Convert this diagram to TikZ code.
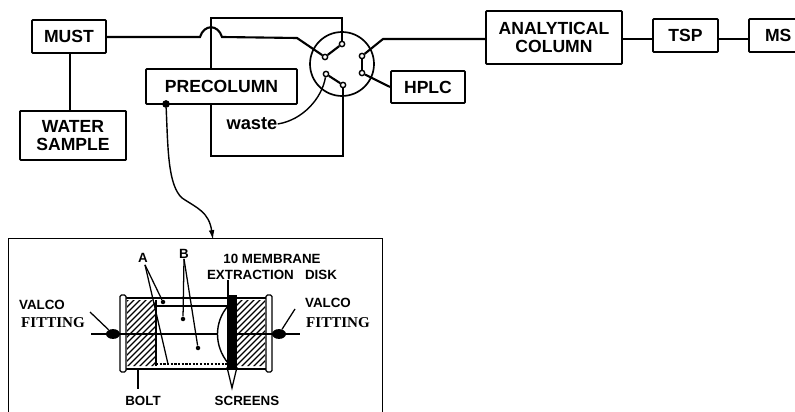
\documentclass[tikz,border=0pt]{standalone}
\usepackage{fontspec}
\setmainfont{Liberation Sans}
\newfontfamily\fitfont{Liberation Serif}
\usetikzlibrary{positioning,arrows.meta,calc,shapes.geometric}
\tikzset{
  flowbox/.style={draw, line width=1.3pt, rounded corners=0.6pt, align=center, font=\fontsize{12.5}{13}\selectfont\bfseries, inner sep=0pt},
  pipe/.style={line width=1.5pt},
  thinpipe/.style={line width=1pt},
  leader/.style={line width=0.9pt},
  valveport/.style={circle, draw, fill=white, line width=1pt, inner sep=0pt, minimum size=3.8pt},
  tinydot/.style={circle, fill=black, inner sep=0pt, minimum size=3.2pt},
  blobnode/.style={ellipse, fill=black, inner sep=0pt, minimum width=10pt, minimum height=7pt},
  partlabel/.style={font=\fontsize{9.5}{11}\selectfont\bfseries, inner sep=0pt},
  fitlabel/.style={font=\fontsize{10.7}{12}\fitfont\bfseries, inner sep=0pt}
}
\begin{document}
\begin{tikzpicture}[x=0.025cm, y=-0.025cm]
  \clip (0,0) rectangle (795,412);
  % flow boxes
  \node[flowbox, minimum width=52.6pt, minimum height=23.5pt] (must) at (69,36.5) {MUST};
  \node[flowbox, minimum width=75.4pt, minimum height=34.9pt] (water) at (73,135.5) {WATER\\SAMPLE};
  \node[flowbox, minimum width=107.4pt, minimum height=24.9pt] (precol) at (221.5,86.5) {PRECOLUMN};
  \node[flowbox, minimum width=52.6pt, minimum height=22.8pt] (hplc) at (428,87) {HPLC};
  \node[flowbox, minimum width=96.7pt, minimum height=37.7pt] (anal) at (554,37.5) {ANALYTICAL\\COLUMN};
  \node[flowbox, minimum width=46.2pt, minimum height=23.5pt] (tsp) at (685.5,35.5) {TSP};
  \node[flowbox, minimum width=39.8pt, minimum height=23.5pt, text width=34pt, align=left] (ms) at (777,35.5) {\hspace{8.5pt}MS};
  % valve
  \node[circle, draw, line width=1.2pt, inner sep=0pt, minimum size=45.5pt] (valve) at (342,64) {};
  \node[valveport] (p1) at (342,44) {};
  \node[valveport] (p2) at (325,57) {};
  \node[valveport] (p3) at (362,56) {};
  \node[valveport] (p4) at (362,73) {};
  \node[valveport] (p5) at (326,74) {};
  \node[valveport] (p6) at (343,85) {};
  \draw[pipe] (p1) -- (p2);
  \draw[pipe] (p3) -- (p4);
  \draw[pipe] (p5) -- (p6);
  % main line
  \coordinate (hopL) at (200,37);
  \coordinate (hopR) at (222,37);
  \coordinate (bendA) at (297,38);
  \coordinate (bendB) at (383,39);
  \draw[pipe] (must.east |- hopL) -- (hopL) .. controls (204,24) and (218,24) .. (hopR) -- (bendA) -- (p2);
  \draw[pipe] (must.south -| 70,0) -- (water.north -| 70,0);
  \draw[pipe] (p3) -- (bendB) -- (anal.west |- bendB);
  \draw[pipe] (p4) -- (hplc.west);
  \draw[pipe] (anal.east |- bendB) -- (tsp.west |- bendB);
  \draw[pipe] (tsp.east |- bendB) -- (ms.west |- bendB);
  % precolumn loop
  \coordinate (loopTL) at (211,18);
  \coordinate (loopBL) at (211,156);
  \draw[pipe] (loopTL |- precol.north) -- (loopTL) -- (p1 |- loopTL) -- (p1);
  \draw[pipe] (loopBL |- precol.south) -- (loopBL) -- (p6 |- loopBL) -- (p6);
  % waste
  \node[font=\fontsize{13}{14}\selectfont\bfseries, inner sep=0pt] (waste) at (252,124) {waste};
  \draw[thinpipe] (p5) .. controls (322,98) and (303,120) .. (waste.east);
  % inset
  \node[draw, line width=0.9pt, minimum width=266pt, minimum height=160pt, anchor=north west, inner sep=0pt] (inset) at (8,238) {};
  \node[tinydot, minimum size=5.5pt] (precoldot) at (166,104) {};
  \draw[thinpipe, -{Latex[length=7pt, width=4pt]}] (precoldot) .. controls (168,150) and (168,185) .. (182,198) .. controls (197,208) and (209,212) .. (213,240);
  % device
  \begin{scope}
    \clip (127,300) rectangle (156,366) (235,300) rectangle (265,366);
    \foreach \hx in {40,46,...,270}
      \draw[line width=0.8pt] (\hx,370) -- (\hx+75,295);
  \end{scope}
  \draw[line width=1pt] (156,300) -- (156,366);
  \draw[line width=2pt] (126,298) -- (266,298);
  \draw[line width=2pt] (126,369) -- (266,369);
  \draw[line width=0.9pt, fill=white, rounded corners=1pt] (120,295) rectangle (126,372);
  \draw[line width=0.9pt, fill=white, rounded corners=1pt] (266,295) rectangle (272,372);
  \draw[line width=1.4pt] (156,306) -- (235,306);
  \draw[line width=1.6pt, densely dotted] (156,364) -- (235,364);
  \draw[line width=1pt, fill=white] (228,306) .. controls (214,322) and (214,346) .. (228,363) -- cycle;
  \fill (227,295) rectangle (237,370);
  \node[blobnode] (fitL) at (113,334) {};
  \node[blobnode] (fitR) at (279,334) {};
  \draw[line width=1.8pt] (91,334) -- (fitL) -- (218,334);
  \draw[line width=1.8pt] (235,334) -- (fitR) -- (300,334);
  % labels
  \node[partlabel] (labA) at (143,258) {A};
  \node[partlabel] (labB) at (184,254) {B};
  \node[partlabel, align=center] (labDisk) at (272,267) {10 MEMBRANE\\EXTRACTION\ \ \ DISK};
  \node[tinydot] (dotA) at (163,302) {};
  \node[tinydot] (dotB) at (183,319) {};
  \node[tinydot] (dotC) at (198,348) {};
  \coordinate (dotD) at (168,364);
  \draw[leader] (labA.south) ++(2,2) -- (dotA);
  \draw[leader] (labA.south) ++(2,2) -- (dotD);
  \draw[leader] (labB.south) -- (dotB);
  \draw[leader] (labB.south) -- (dotC);
  \draw[leader] (228,280) -- (228,296);
  \node[partlabel] (valcoL) at (42,305) {VALCO};
  \node[fitlabel] (fittingL) at (53,323) {FITTING};
  \node[partlabel] (valcoR) at (328,303) {VALCO};
  \node[fitlabel] (fittingR) at (338,323) {FITTING};
  \draw[leader] (90,312) -- (fitL);
  \draw[leader] (295,309) -- (fitR);
  \node[partlabel] (bolt) at (143,401) {BOLT};
  \node[partlabel] (screens) at (247,401) {SCREENS};
  \draw[leader] (138,369) -- (138,389);
  \draw[leader] (227,367) -- (232,388) -- (237,367);
\end{tikzpicture}
\end{document}
